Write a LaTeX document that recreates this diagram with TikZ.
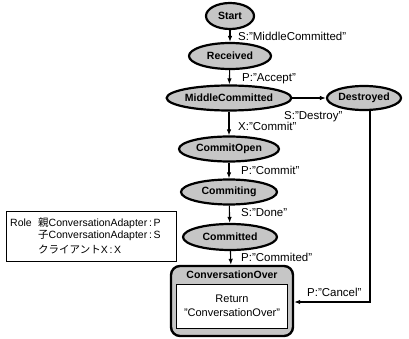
\documentclass[tikz,border=0pt]{standalone}
\usepackage{fontspec}
\setmainfont{Liberation Sans}
\newfontfamily\jpfont{Noto Sans CJK JP}
\usetikzlibrary{shapes.geometric,arrows.meta}
\tikzset{
  st/.style={ellipse, draw=black, line width=2.2pt, fill=gray!45, inner sep=0pt,
    font=\fontsize{10.5}{11}\selectfont\bfseries},
  lbl/.style={anchor=west, inner sep=0pt, font=\fontsize{11.5}{13}\selectfont},
  arr/.style={-{Latex[length=6pt,width=4.5pt]}, line width=1.1pt},
  rtxt/.style={anchor=west, inner sep=0pt, font=\fontsize{10.5}{12}\selectfont},
}
\begin{document}
\begin{tikzpicture}[x=1pt,y=-1pt]
\useasboundingbox (0,0) rectangle (409,339);
\node[st, minimum width=48pt, minimum height=26pt] (start) at (230,16) {Start};
\node[st, minimum width=82pt, minimum height=26pt] (recv) at (230,56) {Received};
\node[st, minimum width=110pt, minimum height=25pt] (mc) at (229,98) {MiddleCommitted};
\node[st, minimum width=74pt, minimum height=24pt] (des) at (364,98) {Destroyed};
\node[st, minimum width=100pt, minimum height=25pt] (co) at (229,149) {CommitOpen};
\node[st, minimum width=96pt, minimum height=25pt] (cing) at (229,192) {Commiting};
\node[st, minimum width=94pt, minimum height=26pt] (cted) at (230,237) {Committed};
% ConversationOver
\node[draw=black, line width=2.4pt, rounded corners=9pt, fill=gray!45,
  minimum width=122pt, minimum height=70pt, inner sep=0pt] (over) at (232,301) {};
\node[inner sep=0pt, font=\fontsize{10.5}{11}\selectfont\bfseries] (overt) at (232,275) {ConversationOver};
\node[draw=black, line width=0.7pt, fill=white, minimum width=111pt, minimum height=44pt,
  inner sep=0pt, align=center, font=\fontsize{11}{14}\selectfont] (ret) at (232,306)
  {Return\\"ConversationOver"};
% arrows
\draw[arr] (start) -- (recv);
\draw[arr] (recv) -- (mc);
\draw[arr] (mc) -- (des);
\draw[arr] (mc) -- (co);
\draw[arr] (co) -- (cing);
\draw[arr] (cing) -- (cted);
\draw[arr] (cted) -- (over);
\coordinate (dbot) at (370,109);
\coordinate (dturn) at (370,302);
\draw[arr] (dbot) -- (dturn) -- (over.east |- dturn);
% labels
\node[lbl] (l1) at (238,36) {S:"MiddleCommitted"};
\node[lbl] (l2) at (242,79) {P:"Accept"};
\node[lbl] (l3) at (284,117) {S:"Destroy"};
\node[lbl] (l4) at (238,126) {X:"Commit"};
\node[lbl] (l5) at (241,170) {P:"Commit"};
\node[lbl] (l6) at (241,213) {S:"Done"};
\node[lbl] (l7) at (241,257) {P:"Commited"};
\node[lbl] (l8) at (307,292) {P:"Cancel"};
% role box
\draw[line width=0.7pt] (6,211) rectangle (176,261);
\node[rtxt] (role) at (10,223) {Role};
\node[rtxt] (r1) at (38,223) {{\jpfont 親}ConversationAdapter\,:\,P};
\node[rtxt] (r2) at (38,236) {{\jpfont 子}ConversationAdapter\,:\,S};
\node[rtxt] (r3) at (38,249) {{\jpfont クライアント}X\,:\,X};
\end{tikzpicture}
\end{document}
